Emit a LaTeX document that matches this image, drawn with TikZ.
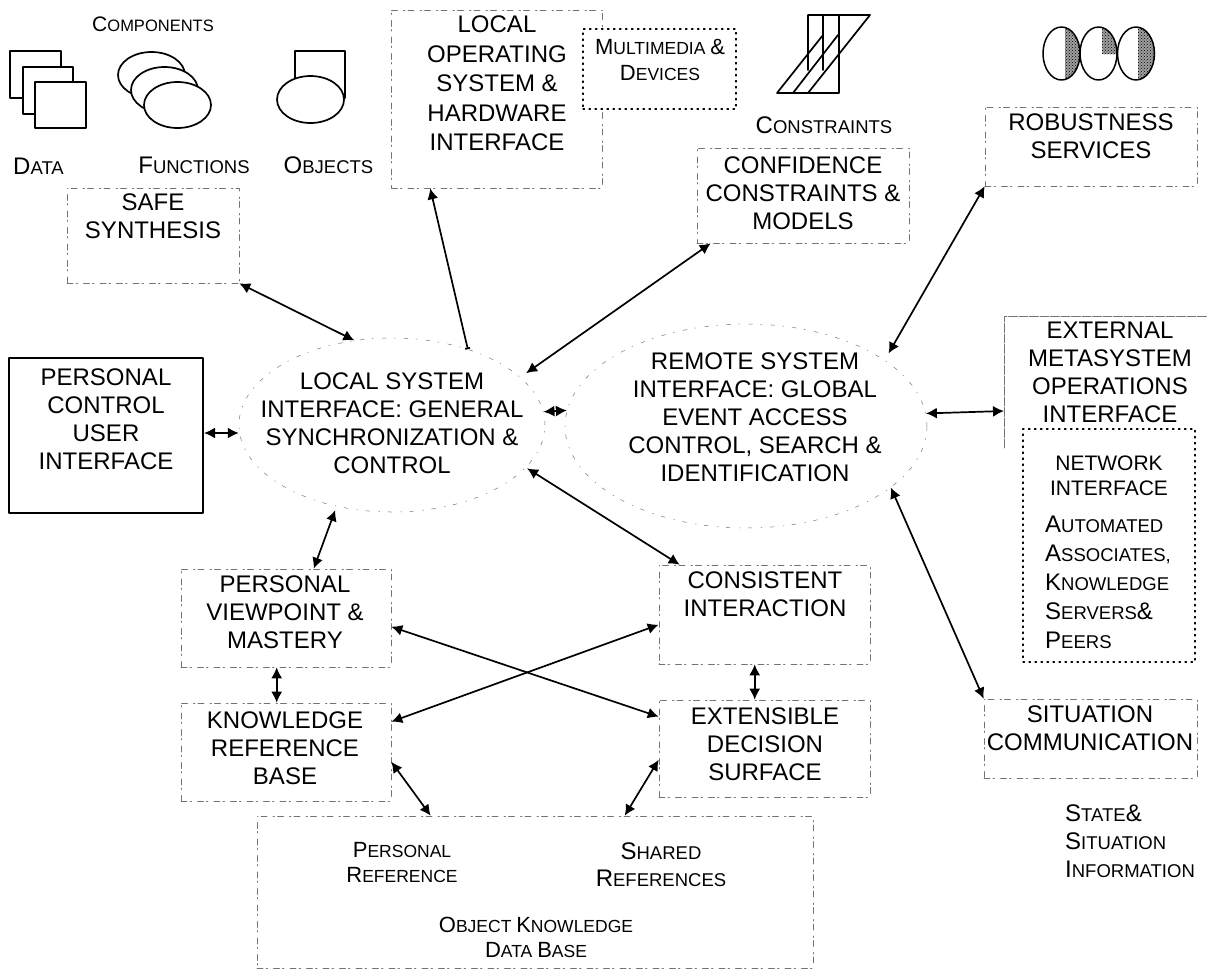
\documentclass[tikz,border=0pt]{standalone}
\usepackage{fontspec}
\setmainfont{Liberation Sans}
\usetikzlibrary{arrows.meta}
\usetikzlibrary{patterns}
\usetikzlibrary{shapes.geometric}
\definecolor{fadegray}{rgb}{0.45,0.45,0.45}
\newcommand{\capsm}[2]{{\fontsize{21}{26}\selectfont #1}{\fontsize{16.5}{26}\selectfont #2}}
\newcommand{\capmid}[2]{{\fontsize{22}{26}\selectfont #1}{\fontsize{17.5}{26}\selectfont #2}}
\newcommand{\capbig}[2]{{\fontsize{24}{26}\selectfont #1}{\fontsize{18.5}{26}\selectfont #2}}
\tikzset{
  lbl/.style={align=center,inner sep=0pt,font=\fontsize{24}{28}\selectfont},
  smalllbl/.style={align=center,inner sep=0pt,font=\fontsize{21}{25}\selectfont},
  fadebox/.style={draw=fadegray,line width=0.6pt,dash pattern=on 6pt off 3pt on 1.5pt off 6pt,inner sep=0pt},
  fadeoval/.style={ellipse,draw=fadegray,line width=0.5pt,dash pattern=on 4pt off 9pt on 1pt off 8pt,inner sep=0pt},
  dotbox/.style={draw,line width=1.2pt,dash pattern=on 1.5pt off 4.5pt,inner sep=0pt},
  twoway/.style={line width=1.7pt,{Latex[length=11pt,width=11pt]}-{Latex[length=11pt,width=11pt]}},
  icon/.style={line width=1.7pt,fill=white}
}
\begin{document}
\begin{tikzpicture}[line cap=round,line join=round,x=1pt,y=-1pt]
\useasboundingbox (0,0) rectangle (1208,970);
% icons
\draw[icon] (10,51) rectangle (61,98);
\draw[icon] (23,67) rectangle (73,114);
\draw[icon] (35,82) rectangle (86,128);
\draw[icon] (151.5,75) ellipse (33.5 and 23);
\draw[icon] (164.5,90) ellipse (33.5 and 23);
\draw[icon] (177.5,105) ellipse (33.5 and 23);
\draw[icon] (295,98) -- (295,51) -- (345,51) -- (345,98);
\draw[icon] (310.5,99.5) ellipse (33.5 and 23.5);
\draw[line width=1.7pt] (808,70) -- (808,15) -- (870,15) -- (808,93) -- (793,93) -- (838,35);
\draw[line width=1.7pt] (823,70) -- (823,15);
\draw[line width=1.7pt] (839,15) -- (839,93) -- (777,93) -- (823,35);
\begin{scope}
\clip (1061.5,53.5) ellipse (18.5 and 26.5);
\fill[gray!75] (1065,20) rectangle (1085,85);
\fill[pattern=crosshatch dots] (1065,20) rectangle (1085,85);
\end{scope}
\begin{scope}
\clip (1098.5,53.5) ellipse (18.5 and 26.5);
\fill[gray!75] (1102,20) rectangle (1120,54);
\fill[pattern=crosshatch dots] (1102,20) rectangle (1120,54);
\end{scope}
\begin{scope}
\clip (1136,53.5) ellipse (18.5 and 26.5);
\fill[gray!75] (1138,20) rectangle (1160,85);
\fill[pattern=crosshatch dots] (1138,20) rectangle (1160,85);
\end{scope}
\draw[line width=1.5pt] (1061.5,53.5) ellipse (18.5 and 26.5);
\draw[line width=1.5pt] (1098.5,53.5) ellipse (18.5 and 26.5);
\draw[line width=1.5pt] (1136,53.5) ellipse (18.5 and 26.5);
% captions
\node[lbl] (components) at (153,24) {\capsm{C}{OMPONENTS}};
\node[lbl] (data) at (38.5,166) {\capbig{D}{ATA}};
\node[lbl] (functions) at (194,165) {\capbig{F}{UNCTIONS}};
\node[lbl] (objects) at (328.5,165) {\capbig{O}{BJECTS}};
\node[lbl] (constraints) at (824,125) {\capbig{C}{ONSTRAINTS}};
% boxes
\node[fadebox,minimum width=172,minimum height=95] (safe) at (153,235.5) {};
\node[lbl] (safetext) at (153,216) {SAFE\\SYNTHESIS};
\node[fadebox,minimum width=211,minimum height=178] (localos) at (497,99) {};
\node[lbl,font=\fontsize{24}{29.5}\selectfont] (localostext) at (497,83.5) {LOCAL\\OPERATING\\SYSTEM \&\\HARDWARE\\INTERFACE};
\node[dotbox,minimum width=153,minimum height=80,fill=white] (media) at (659.5,69) {};
\node[lbl,font=\fontsize{24}{26.5}\selectfont] (mediatext) at (660,60) {\capmid{M}{ULTIMEDIA }\capmid{\&}{}\\\capmid{D}{EVICES}};
\node[fadebox,minimum width=212,minimum height=95] (confidence) at (803,195.5) {};
\node[lbl] (confidencetext) at (803,193) {CONFIDENCE\\CONSTRAINTS \&\\MODELS};
\node[fadebox,minimum width=212,minimum height=79] (robust) at (1091,146.5) {};
\node[lbl] (robusttext) at (1091,136.5) {ROBUSTNESS\\SERVICES};
\node[draw,line width=2pt,minimum width=194,minimum height=155] (control) at (106,435.5) {};
\node[lbl] (controltext) at (106,419) {PERSONAL\\CONTROL\\USER\\INTERFACE};
\node[fadeoval,minimum width=306,minimum height=174] (localsys) at (392,425) {};
\node[lbl] (localsystext) at (392,423.5) {LOCAL SYSTEM\\INTERFACE: GENERAL\\SYNCHRONIZATION \&\\CONTROL};
\node[fadeoval,minimum width=362,minimum height=204] (remote) at (746,426) {};
\node[lbl] (remotetext) at (755,417) {REMOTE SYSTEM\\INTERFACE: GLOBAL\\EVENT ACCESS\\CONTROL, SEARCH \&\\IDENTIFICATION};
\draw[fadegray,line width=0.7pt,dash pattern=on 9pt off 1.5pt] (1004,448) -- (1004,316) -- (1208,316);
\coordinate (extern) at (1004,411);
\node[lbl] (externtext) at (1110,372.5) {EXTERNAL\\METASYSTEM\\OPERATIONS\\INTERFACE};
\node[dotbox,minimum width=172,minimum height=233] (network) at (1109,545.5) {};
\node[smalllbl] (networktext) at (1109,475.5) {NETWORK\\INTERFACE};
\node[lbl,align=left,anchor=west,font=\fontsize{24}{29}\selectfont] (peerstext) at (1045,582) {\capbig{A}{UTOMATED}\\\capbig{A}{SSOCIATES,}\\\capbig{K}{NOWLEDGE}\\\capbig{S}{ERVERS}\capbig{\&}{}\\\capbig{P}{EERS}};
\node[fadebox,minimum width=213,minimum height=79] (situation) at (1090.5,738.5) {};
\node[lbl] (situationtext) at (1090,728.5) {SITUATION\\COMMUNICATION};
\node[lbl,align=left,anchor=west] (statetext) at (1065,841.5) {\capbig{S}{TATE}\capbig{\&}{}\\\capbig{S}{ITUATION}\\\capbig{I}{NFORMATION}};
\node[fadebox,minimum width=210,minimum height=98] (viewpoint) at (286,618) {};
\node[lbl] (viewpointtext) at (285,612) {PERSONAL\\VIEWPOINT \&\\MASTERY};
\node[fadebox,minimum width=210,minimum height=98] (knowledge) at (286,752) {};
\node[lbl] (knowledgetext) at (285,748) {KNOWLEDGE\\REFERENCE\\BASE};
\node[fadebox,minimum width=211,minimum height=99] (consistent) at (764.5,614.5) {};
\node[lbl] (consistenttext) at (765,594) {CONSISTENT\\INTERACTION};
\node[fadebox,minimum width=211,minimum height=97] (extensible) at (764.5,748.5) {};
\node[lbl] (extensibletext) at (765,744) {EXTENSIBLE\\DECISION\\SURFACE};
\node[fadebox,minimum width=556,minimum height=152] (objectbase) at (535,892) {};
\node[lbl,font=\fontsize{24}{25.5}\selectfont] (personaltext) at (402,862.5) {\capmid{P}{ERSONAL}\\\capmid{R}{EFERENCE}};
\node[lbl,font=\fontsize{24}{27}\selectfont] (sharedtext) at (661,864.5) {\capbig{S}{HARED}\\\capbig{R}{EFERENCES}};
\node[lbl,font=\fontsize{24}{25.5}\selectfont] (objecttext) at (536,937.5) {\capmid{O}{BJECT }\capmid{K}{NOWLEDGE}\\\capmid{D}{ATA }\capmid{B}{ASE}};
% connectors
\draw[twoway] (safe.south east) -- (localsys.114);
\draw[line width=1.7pt,{Latex[length=11pt,width=11pt]}-{Bar[width=5pt]}] ([xshift=39pt]localos.south west) -- (localsys.45);
\draw[twoway] ([xshift=14pt]confidence.south west) -- ([xshift=7pt,yshift=3pt]localsys.21);
\draw[twoway] (robust.south west) -- ([xshift=8pt,yshift=4pt]remote.27);
\draw[twoway] (remote.4.7) -- (extern);
\draw[twoway] (remote.-23.6) -- (situation.north west);
\draw[twoway] ([xshift=2pt]localsys.-18.6) -- ([xshift=21pt]consistent.north west);
\draw[twoway] ([yshift=2.5pt]control.east) -- ([yshift=-8pt]localsys.west);
\draw[twoway] (localsys.5) -- (remote.175.6);
\draw[twoway] ([yshift=-4pt]localsys.-125) -- ([xshift=133pt]viewpoint.north west);
\draw[twoway] ([xshift=96pt]viewpoint.south west) -- ([xshift=96pt]knowledge.north west);
\draw[twoway] ([xshift=96pt]consistent.south west) -- ([xshift=96pt]extensible.north west);
\draw[twoway] ([yshift=-58pt]viewpoint.north east) -- ([yshift=-17pt]extensible.north west);
\draw[twoway] ([yshift=-19pt]knowledge.north east) -- ([yshift=-60pt]consistent.north west);
\draw[twoway] ([yshift=-59pt]knowledge.north east) -- ([xshift=174pt]objectbase.north west);
\draw[twoway] ([yshift=-60pt]extensible.north west) -- ([xshift=368pt]objectbase.north west);
\end{tikzpicture}
\end{document}
